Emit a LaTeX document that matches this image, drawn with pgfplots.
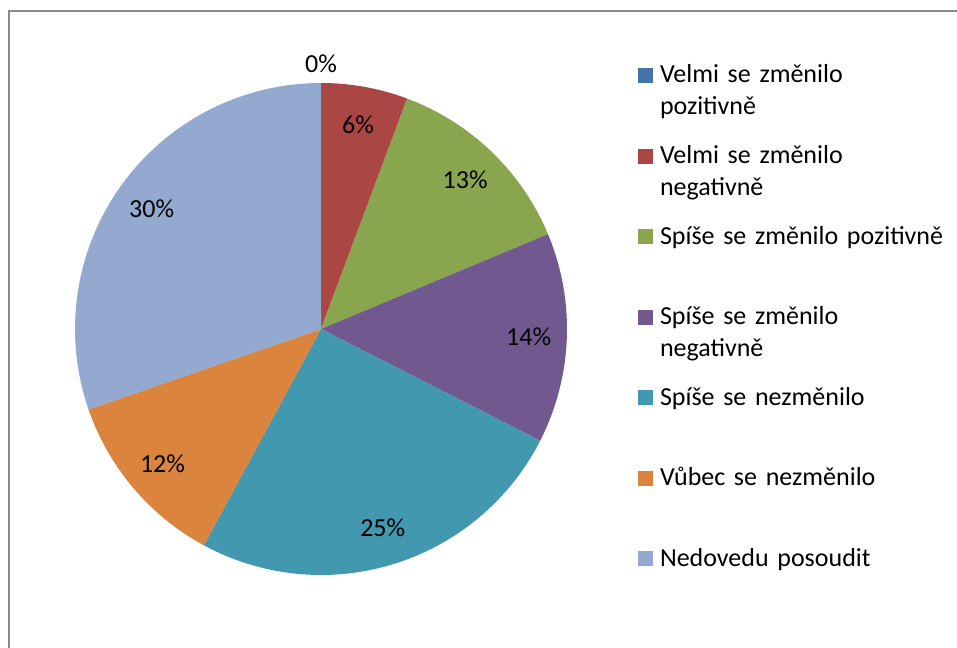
\documentclass[border=0pt]{standalone}
\usepackage{pgfplots}
\pgfplotsset{compat=1.18}
\usepackage{fontspec}
\setmainfont{Carlito}
\definecolor{cA}{HTML}{4572A7}
\definecolor{cB}{HTML}{AA4643}
\definecolor{cC}{HTML}{89A54E}
\definecolor{cD}{HTML}{71588F}
\definecolor{cE}{HTML}{4198AF}
\definecolor{cF}{HTML}{DB843D}
\definecolor{cG}{HTML}{93A9CF}
\definecolor{frame}{HTML}{8A8A8A}
% shares in percent
\def\vA{0.0}\def\vB{5.7}\def\vC{13.0}\def\vD{13.8}\def\vE{25.4}\def\vF{11.8}\def\vG{30.3}
% cumulative angles (clockwise from top)
\pgfmathsetmacro\eA{3.6*\vA}
\pgfmathsetmacro\eB{\eA+3.6*\vB}
\pgfmathsetmacro\eC{\eB+3.6*\vC}
\pgfmathsetmacro\eD{\eC+3.6*\vD}
\pgfmathsetmacro\eE{\eD+3.6*\vE}
\pgfmathsetmacro\eF{\eE+3.6*\vF}
\pgfmathsetmacro\eG{\eF+3.6*\vG}
\def\lr{0.845}
\tikzset{lbl/.style={font=\fontsize{19.5pt}{24pt}\selectfont, inner sep=0pt}}
\newcommand\pielabel[4]{% start, end, radius, value
  \pgfmathsetmacro\mid{(#1+#2)/2}%
  \pgfmathsetmacro\lx{#3*sin(\mid)}%
  \pgfmathsetmacro\ly{#3*cos(\mid)}%
  \edef\temp{\noexpand\node[lbl] at (axis cs:\lx,\ly) {\noexpand\pgfmathprintnumber[fixed,precision=0,assume math mode=true]{#4}\noexpand\%};}%
  \temp}
\begin{document}
\begin{tikzpicture}
\useasboundingbox (0pt,0pt) rectangle (717.75pt,486pt);
\draw[frame, line width=1.5pt] (6.75pt,0pt) -- (6.75pt,477.75pt) -- (717.75pt,477.75pt);
\begin{axis}[
  at={(240.75pt,239.25pt)}, anchor=center,
  width=369pt, height=369pt, scale only axis,
  xmin=-1, xmax=1, ymin=-1, ymax=1,
  hide axis, clip=false,
  legend image code/.code={\fill[#1] (0pt,0pt) rectangle (11.25pt,11.25pt);},
  legend cell align=left,
  legend style={
    at={(1.1443,1.0407)}, anchor=north west,
    draw=none, fill=none, inner sep=0pt, outer sep=0pt,
    column sep=5.25pt, row sep=0pt,
    font=\fontsize{19.5pt}{24pt}\selectfont,
    cells={anchor=base west},
    nodes={inner sep=0pt, outer sep=0pt, text width=230pt, align=left,
           text height=15pt, text depth=45.4pt},
  },
]
\addlegendimage{fill=cA, draw=none}
\addlegendentry{Velmi se změnilo\newline pozitivně}
\addplot[fill=cB, draw=none, domain=\eA:\eB, samples=40] ({sin(x)},{cos(x)}) -- (axis cs:0,0) -- cycle;
\addlegendentry{Velmi se změnilo\newline negativně}
\addplot[fill=cC, draw=none, domain=\eB:\eC, samples=60] ({sin(x)},{cos(x)}) -- (axis cs:0,0) -- cycle;
\addlegendentry{Spíše se změnilo pozitivně}
\addplot[fill=cD, draw=none, domain=\eC:\eD, samples=60] ({sin(x)},{cos(x)}) -- (axis cs:0,0) -- cycle;
\addlegendentry{Spíše se změnilo\newline negativně}
\addplot[fill=cE, draw=none, domain=\eD:\eE, samples=100] ({sin(x)},{cos(x)}) -- (axis cs:0,0) -- cycle;
\addlegendentry{Spíše se nezměnilo}
\addplot[fill=cF, draw=none, domain=\eE:\eF, samples=60] ({sin(x)},{cos(x)}) -- (axis cs:0,0) -- cycle;
\addlegendentry{Vůbec se nezměnilo}
\addplot[fill=cG, draw=none, domain=\eF:\eG, samples=100] ({sin(x)},{cos(x)}) -- (axis cs:0,0) -- cycle;
\addlegendentry{Nedovedu posoudit}
\pielabel{0}{\eA}{1.077}{\vA}
\pielabel{\eA}{\eB}{\lr}{\vB}
\pielabel{\eB}{\eC}{\lr}{\vC}
\pielabel{\eC}{\eD}{\lr}{\vD}
\pielabel{\eD}{\eE}{\lr}{\vE}
\pielabel{\eE}{\eF}{\lr}{\vF}
\pielabel{\eF}{\eG}{\lr}{\vG}
\end{axis}
\end{tikzpicture}
\end{document}
